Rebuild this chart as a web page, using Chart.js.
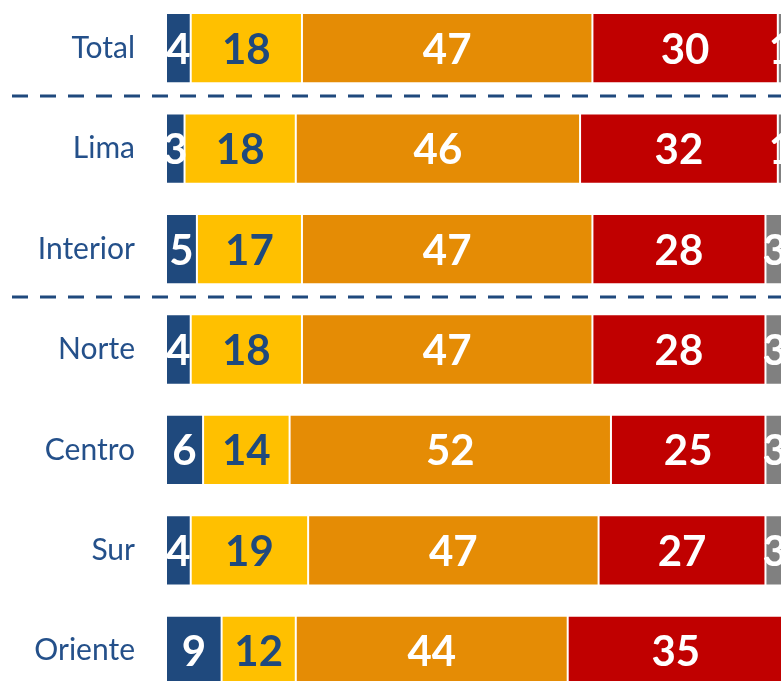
<!DOCTYPE html>
<html>
<head>
<meta charset="utf-8">
<script src="https://cdn.jsdelivr.net/npm/chart.js@4.4.1/dist/chart.umd.min.js"></script>
<style>
  html, body { margin: 0; padding: 0; background: #fff; overflow: hidden; }
  #wrap { position: absolute; left: 0; top: -2px; }
</style>
</head>
<body>
<div id="wrap"><canvas id="myChartbar" width="784" height="703"></canvas></div>
<script>
// categories and series (percent)
const regions = ["Total", "Lima", "Interior", "Norte", "Centro", "Sur", "Oriente"];
const muyBueno = [4, 3, 5, 4, 6, 4, 9];
const bueno = [18, 18, 17, 18, 14, 19, 12];
const regular = [47, 46, 47, 47, 52, 47, 44];
const malo = [30, 32, 28, 28, 25, 27, 35];
const nsnr = [1, 1, 3, 3, 3, 3, 0];
// separators drawn after these rows
const dividersAfter = [0, 2];

const navy = "#1F497D";

// value labels drawn in the middle of each segment
const segmentLabels = {
  id: "segmentLabels",
  afterDatasetsDraw(chart) {
    const ctx = chart.ctx;
    const area = chart.chartArea;
    ctx.save();
    ctx.beginPath();
    ctx.rect(area.left, area.top, area.right - area.left, area.bottom - area.top);
    ctx.clip();
    ctx.font = "bold 42px Lato";
    ctx.textAlign = "center";
    ctx.textBaseline = "middle";
    chart.data.datasets.forEach((ds, i) => {
      chart.getDatasetMeta(i).data.forEach((bar, j) => {
        const v = ds.data[j];
        if (!v) return;
        ctx.fillStyle = ds.labelColor;
        const x = (bar.x + bar.base) / 2;
        ctx.fillText(String(v), x, bar.y + 2);
      });
    });
    ctx.restore();
  }
};

// dashed separators between groups
const dividers = {
  id: "dividers",
  afterDraw(chart) {
    const ctx = chart.ctx;
    const y = chart.scales.y;
    ctx.save();
    ctx.strokeStyle = navy;
    ctx.lineWidth = 3;
    ctx.setLineDash([16, 12]);
    dividersAfter.forEach(idx => {
      const py = Math.round((y.getPixelForValue(idx) + y.getPixelForValue(idx + 1)) / 2) - 2;
      ctx.beginPath();
      ctx.moveTo(12, py);
      ctx.lineTo(chart.width, py);
      ctx.stroke();
    });
    ctx.restore();
  }
};

function series(data, color, labelColor) {
  return {
    data: data,
    backgroundColor: color,
    borderColor: "rgba(255,255,255,0.85)",
    borderWidth: 1,
    borderSkipped: false,
    barPercentage: 0.7,
    categoryPercentage: 1,
    labelColor: labelColor
  };
}

const ctx = document.getElementById("myChartbar").getContext("2d");
const myChart = new Chart(ctx, {
  type: "bar",
  data: {
    labels: regions,
    datasets: [
      series(muyBueno, navy, "#ffffff"),
      series(bueno, "#FFC000", navy),
      series(regular, "#E58C05", "#ffffff"),
      series(malo, "#C00000", "#ffffff"),
      series(nsnr, "#808080", "#ffffff")
    ]
  },
  options: {
    indexAxis: "y",
    responsive: false,
    devicePixelRatio: 1,
    animation: false,
    layout: { padding: 0 },
    plugins: { legend: { display: false }, tooltip: { enabled: false } },
    scales: {
      x: { stacked: true, min: 0, max: 100, display: false },
      y: {
        stacked: true,
        grid: { display: false, drawTicks: false },
        border: { display: false },
        ticks: {
          color: "#24508A",
          font: { family: "Lato", size: 30 },
          padding: 31
        },
        afterFit(scale) {
          scale.width = 166;
          scale.paddingTop = 0;
          scale.paddingBottom = 0;
        }
      }
    }
  },
  plugins: [segmentLabels, dividers]
});
</script>
</body>
</html>
